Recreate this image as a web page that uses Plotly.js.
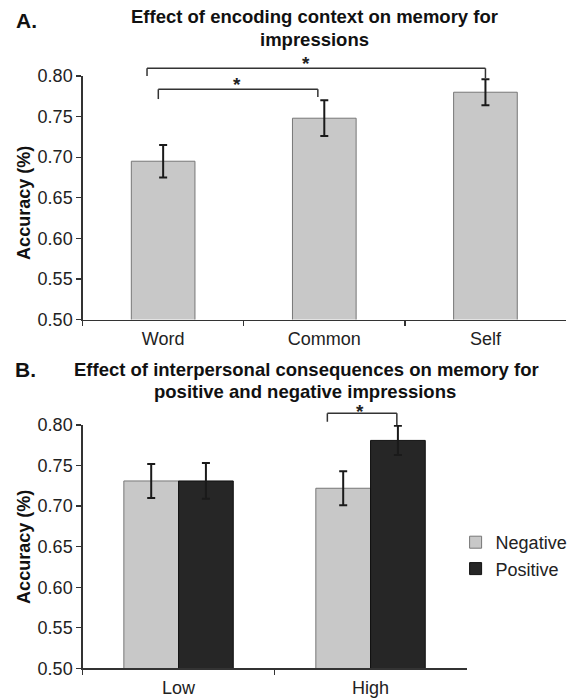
<!DOCTYPE html>
<html>
<head>
<meta charset="utf-8">
<script src="https://cdn.plot.ly/plotly-3.0.1.min.js"></script>
<style>html,body{margin:0;padding:0;background:#fff;}#chart{width:573px;height:700px;}</style>
</head>
<body>
<div id="chart"></div>
<script>
// ---- Data ----
const catsA = ['Word', 'Common', 'Self'];
const accA = [0.695, 0.748, 0.780];
const errA = [0.020, 0.022, 0.016];

const catsB = ['Low', 'High'];
const accNeg = [0.731, 0.722];
const errNeg = [0.021, 0.021];
const accPos = [0.731, 0.781];
const errPos = [0.022, 0.018];

const yTickVals = [0.50, 0.55, 0.60, 0.65, 0.70, 0.75, 0.80];
const yTickText = ['0.50', '0.55', '0.60', '0.65', '0.70', '0.75', '0.80'];
const seriesNames = ['Negative', 'Positive'];

// ---- Helpers ----
const W = 573, H = 700;
const FONT = 'Liberation Sans, Arial, Helvetica, sans-serif';
const yMin = 0.5, yMax = 0.8;
const px = x => x / W;
const py = y => 1 - y / H;
const xdA = c => (c + 0.5) / catsA.length;
const xdB = c => (c + 0.5) / catsB.length;
const yd = v => (v - yMin) / (yMax - yMin);

const errStyle = {type: 'data', color: '#1a1a1a', thickness: 2, width: 4};

const traces = [
  {
    type: 'bar', x: catsA, y: accA, xaxis: 'x', yaxis: 'y', width: 0.395,
    marker: {color: '#c8c8c8', line: {color: '#777777', width: 1}},
    error_y: Object.assign({array: errA}, errStyle),
    showlegend: false, hoverinfo: 'x+y'
  },
  {
    type: 'bar', name: seriesNames[0], x: catsB, y: accNeg, xaxis: 'x2', yaxis: 'y2',
    width: 0.285, offset: -0.285,
    marker: {color: '#c8c8c8', line: {color: '#777777', width: 1}},
    error_y: Object.assign({array: errNeg}, errStyle)
  },
  {
    type: 'bar', name: seriesNames[1], x: catsB, y: accPos, xaxis: 'x2', yaxis: 'y2',
    width: 0.285, offset: 0,
    marker: {color: '#262626', line: {color: '#111111', width: 1}},
    error_y: Object.assign({array: errPos}, errStyle)
  }
];

const xAxisBase = {
  type: 'category', showgrid: false, zeroline: false,
  showline: true, linecolor: '#333', linewidth: 1.3,
  ticks: 'outside', tickson: 'boundaries', ticklen: 5, tickcolor: '#333', tickwidth: 1.3,
  tickfont: {family: FONT, size: 18, color: '#222'}, ticklabelstandoff: 3,
  fixedrange: true
};
const yAxisBase = {
  range: [yMin, yMax], showgrid: false, zeroline: false,
  showline: true, linecolor: '#333', linewidth: 1.3,
  ticks: 'outside', ticklen: 5, tickcolor: '#333', tickwidth: 1.3,
  tickvals: yTickVals, ticktext: yTickText,
  tickfont: {family: FONT, size: 18, color: '#222'},
  fixedrange: true
};

const lineStyle = {color: '#333', width: 1.5};
function bracket(xref, yref, x0, x1, yTop, yL, yR) {
  return [
    {type: 'line', xref, yref, x0: x0, x1: x1, y0: yTop, y1: yTop, line: lineStyle},
    {type: 'line', xref, yref, x0: x0, x1: x0, y0: yTop, y1: yL, line: lineStyle},
    {type: 'line', xref, yref, x0: x1, x1: x1, y0: yTop, y1: yR, line: lineStyle}
  ];
}

const shapes = [].concat(
  bracket('x domain', 'y domain', xdA(-0.03), xdA(0.96), yd(0.7836), yd(0.7716), yd(0.7740)),
  bracket('x domain', 'y domain', xdA(-0.10), xdA(2.0), yd(0.8095), yd(0.8000), yd(0.7975)),
  bracket('x2 domain', 'y2 domain', xdB(0.775), xdB(1.137), yd(0.8144), yd(0.8040), yd(0.8000))
);

const starFont = {family: FONT, size: 19, color: '#222'};
const titleFont = {family: FONT, size: 18.5, color: '#111'};
function titleLine(text, x, y) {
  return {xref: 'paper', yref: 'paper', x: px(x), y: py(y), xanchor: 'center', yanchor: 'middle',
          text: '<b>' + text + '</b>', showarrow: false, font: titleFont, borderpad: 0};
}
function star(xref, yref, x, y) {
  return {xref, yref, x, y, xanchor: 'center', yanchor: 'middle', text: '<b>*</b>',
          showarrow: false, font: starFont, borderpad: 0, yshift: -5};
}
const annotations = [
  {xref: 'paper', yref: 'paper', x: px(14), y: py(20), xanchor: 'left', yanchor: 'middle',
   text: '<b>A.</b>', showarrow: false, font: {family: FONT, size: 21, color: '#111'}},
  titleLine('Effect of encoding context on memory for', 316, 17),
  titleLine('impressions', 316.5, 39),
  {xref: 'paper', yref: 'paper', x: px(13), y: py(369), xanchor: 'left', yanchor: 'middle',
   text: '<b>B.</b>', showarrow: false, font: {family: FONT, size: 21, color: '#111'}},
  titleLine('Effect of interpersonal consequences on memory for', 307.7, 369),
  titleLine('positive and negative impressions', 307, 391.5),
  {xref: 'paper', yref: 'paper', x: px(23.5), y: py(202.5), xanchor: 'center', yanchor: 'middle',
   text: '<b>Accuracy (%)</b>', textangle: -90, showarrow: false, font: {family: FONT, size: 18, color: '#111'}},
  {xref: 'paper', yref: 'paper', x: px(23.5), y: py(546.5), xanchor: 'center', yanchor: 'middle',
   text: '<b>Accuracy (%)</b>', textangle: -90, showarrow: false, font: {family: FONT, size: 18, color: '#111'}},
  star('x domain', 'y domain', xdA(0.457), yd(0.7963)),
  star('x domain', 'y domain', xdA(0.889), yd(0.8210)),
  star('x2 domain', 'y2 domain', xdB(0.947), yd(0.8226))
];

const layout = {
  width: W, height: H,
  margin: {l: 0, r: 0, t: 0, b: 0},
  paper_bgcolor: '#fff', plot_bgcolor: '#fff',
  font: {family: FONT, color: '#222'},
  barmode: 'overlay',
  xaxis: Object.assign({}, xAxisBase, {domain: [px(83), px(569)], anchor: 'y'}),
  yaxis: Object.assign({}, yAxisBase, {domain: [py(319.5), py(76)], anchor: 'x'}),
  xaxis2: Object.assign({}, xAxisBase, {domain: [px(83), px(469)], anchor: 'y2'}),
  yaxis2: Object.assign({}, yAxisBase, {domain: [py(668.3), py(425)], anchor: 'x2'}),
  showlegend: true,
  legend: {
    x: px(458), y: py(524), xanchor: 'left', yanchor: 'top',
    font: {family: FONT, size: 18, color: '#222'},
    bgcolor: 'rgba(0,0,0,0)', borderwidth: 0, traceorder: 'normal', tracegroupgap: 0
  },
  shapes: shapes,
  annotations: annotations
};

Plotly.newPlot('chart', traces, layout, {displayModeBar: false, staticPlot: true});
</script>
</body>
</html>
